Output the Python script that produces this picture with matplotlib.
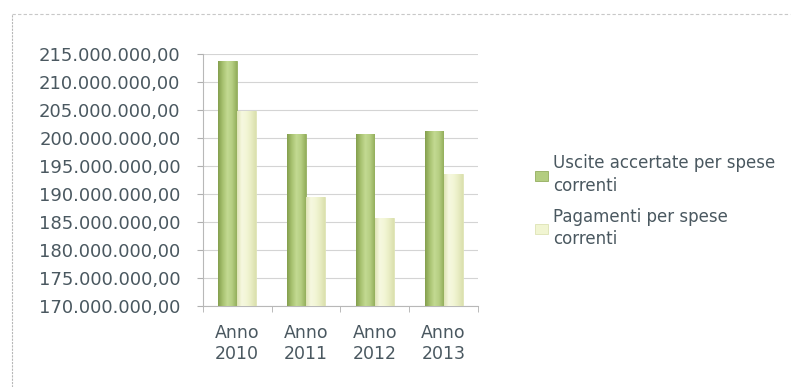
import matplotlib
matplotlib.use("Agg")
import matplotlib.pyplot as plt
import numpy as np
from matplotlib.ticker import FuncFormatter, MultipleLocator
from matplotlib.colors import LinearSegmentedColormap
from matplotlib.lines import Line2D

categories = ["Anno\n2010", "Anno\n2011", "Anno\n2012", "Anno\n2013"]
series_names = ["Uscite accertate per spese\ncorrenti", "Pagamenti per spese\ncorrenti"]
uscite = [213.7e6, 200.8e6, 200.8e6, 201.2e6]
pagamenti = [204.8e6, 189.5e6, 185.7e6, 193.6e6]
y_min, y_max = 170e6, 215e6

plt.rcParams['font.family'] = ['DejaVu Sans']
txt = '#4a5860'

fig = plt.figure(figsize=(7.98, 3.87), dpi=100)
fig.patch.set_facecolor('white')
ax = fig.add_axes([0.254, 0.209, 0.345, 0.651])

x = np.arange(len(categories))
w = 0.27
b1 = ax.bar(x - 0.14, np.array(uscite) - y_min, w, bottom=y_min, color='#b3cd80',
            edgecolor='#93ad5e', linewidth=0.6, zorder=3, label=series_names[0])
b2 = ax.bar(x + 0.14, np.array(pagamenti) - y_min, w, bottom=y_min, color='#f1f5d2',
            edgecolor='#dde3b4', linewidth=0.6, zorder=3, label=series_names[1])

cm_g = LinearSegmentedColormap.from_list('g', ['#849f4e', '#a8c270', '#c3da92', '#b5ce82', '#94af5c'])
cm_y = LinearSegmentedColormap.from_list('y', ['#dfe4b6', '#f6f8e0', '#f3f6d6', '#e9edc4', '#dbe0ae'])
grad = np.linspace(0, 1, 64).reshape(1, -1)
for bars, cm in ((b1, cm_g), (b2, cm_y)):
    for p in bars:
        x0, y0 = p.get_x(), p.get_y()
        im = ax.imshow(grad, cmap=cm, aspect='auto', zorder=3.5, origin='lower',
                       extent=(x0, x0 + p.get_width(), y0, y0 + p.get_height()))
        im.set_clip_path(p)

ax.set_xlim(-0.5, len(categories) - 0.5)
ax.set_ylim(y_min, y_max)
ax.set_aspect('auto')
ax.yaxis.set_major_locator(MultipleLocator(5e6))

def fmt(v, pos):
    s = f"{v:,.2f}"
    return s.replace(',', 'X').replace('.', ',').replace('X', '.')

ax.yaxis.set_major_formatter(FuncFormatter(fmt))
ax.set_xticks(x)
ax.set_xticklabels(categories)
ax.set_xticks(np.arange(-0.5, len(categories), 1), minor=True)
ax.tick_params(axis='x', which='major', length=0, pad=13, labelsize=12.5, labelcolor=txt)
ax.tick_params(axis='x', which='minor', length=4, color='#b0b0b0', direction='out')
ax.tick_params(axis='y', length=4, color='#b0b0b0', pad=12, labelsize=13, labelcolor=txt)
for lbl in ax.get_xticklabels():
    lbl.set_linespacing(1.2)

ax.grid(axis='y', color='#d4d4d4', linewidth=0.8, zorder=0)
for s in ('top', 'right'):
    ax.spines[s].set_visible(False)
ax.spines['left'].set_color('#b8b8b8')
ax.spines['bottom'].set_color('#b8b8b8')
ax.set_axisbelow(True)

leg = fig.legend(handles=[b1, b2], loc='upper left', bbox_to_anchor=(0.652, 0.64),
                 frameon=False, fontsize=12, handlelength=0.75, handleheight=0.55,
                 handletextpad=0.3, labelspacing=0.8, labelcolor=txt)
for t in leg.get_texts():
    t.set_linespacing(1.3)

# outer frame of the chart (left and top edges visible in reference)
fig.add_artist(Line2D([0.015, 0.015], [0.0, 0.965], transform=fig.transFigure,
                      color='#b8b8b8', linewidth=0.8, linestyle=(0, (2, 1))))
fig.add_artist(Line2D([0.015, 0.99], [0.965, 0.965], transform=fig.transFigure,
                      color='#c8c8c8', linewidth=0.8, linestyle=(0, (3, 2))))

fig.savefig('out.png', dpi=100)
